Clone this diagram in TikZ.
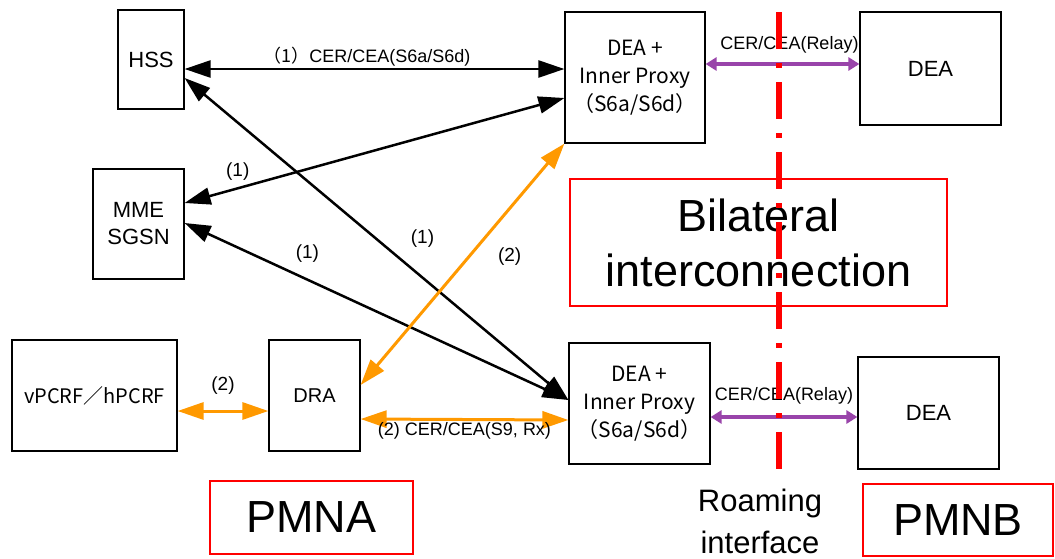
\documentclass[tikz,border=0pt]{standalone}
\usepackage{fontspec}
\setmainfont{Liberation Sans}
\newfontfamily\jp{Noto Sans CJK JP}
\usepackage{xcolor}
\usepackage{tikz}
\usetikzlibrary{arrows.meta, positioning, calc}
\definecolor{orgline}{RGB}{255,153,0}
\definecolor{purpline}{RGB}{153,68,170}
\definecolor{roamred}{RGB}{255,0,0}
\tikzstyle{box} = [rectangle, draw=black, line width=1.2pt, text centered, align=center, inner sep=0pt, font=\fontsize{22}{27}\selectfont]
\tikzstyle{proxy} = [box, minimum width=140pt, minimum height=131pt, font=\jp\fontsize{21}{28}\selectfont]
\tikzstyle{tag} = [rectangle, draw=roamred, line width=1.5pt, text centered, align=center, inner sep=0pt, font=\fontsize{45}{55}\selectfont]
\tikzstyle{lbl} = [inner sep=1pt, font=\fontsize{18}{20}\selectfont]
\tikzstyle{num} = [lbl, font=\fontsize{19}{21}\selectfont]
\tikzstyle{arrow} = [line width=2.5pt, <->, >={Triangle[length=26pt,width=17pt]}]
\tikzstyle{orgarrow} = [arrow, line width=3pt, draw=orgline]
\tikzstyle{relay} = [line width=3.5pt, draw=purpline, <->, >={Triangle[length=11pt,width=13pt]}]
\tikzstyle{roamline} = [draw=roamred, line width=6pt, dash pattern=on 37pt off 14pt on 5pt off 14pt]

\begin{document}
\begin{tikzpicture}[x=1pt, y=-1pt, node distance=220pt]
\useasboundingbox (0,0) rectangle (1055,558);

\node (hss) [box, minimum width=66pt, minimum height=99pt] at (151,59.5) {HSS};
\node (mme) [box, minimum width=91pt, minimum height=110pt] at (138.5,224) {MME\\SGSN};
\node (pcrf) [box, minimum width=165pt, minimum height=111pt, font=\jp\fontsize{20}{24}\selectfont] at (94.5,395.5) {vPCRF／hPCRF};
\node (dra) [box, right of=pcrf, minimum width=91pt, minimum height=111pt, font=\fontsize{20}{24}\selectfont] {DRA};
\node (deaA) [proxy] at (635,77.5) {DEA +\\Inner Proxy\\（S6a/S6d）};
\node (deaB) [proxy, minimum width=141pt, minimum height=121pt] at (639.5,403.5) {DEA +\\Inner Proxy\\（S6a/S6d）};
\node (peerA) [box, right of=deaA, xshift=75.5pt, yshift=9pt, minimum width=141pt, minimum height=113pt] {DEA};
\node (peerB) [box, right of=deaB, xshift=69pt, yshift=-9.5pt, minimum width=141pt, minimum height=112pt] {DEA};

\node (bilat) [tag, minimum width=377pt, minimum height=127pt] at (758.5,242.5) {Bilateral\\interconnection};
\node (pmna) [tag, minimum width=203pt, minimum height=73pt] at (311.5,517.5) {PMNA};
\node (pmnb) [tag, minimum width=190pt, minimum height=72pt] at (958,520) {PMNB};
\node (roam) [align=center, inner sep=0pt, font=\fontsize{31}{42}\selectfont] at (760,521) {Roaming\\interface};

% Arrows
\draw [arrow] ([yshift=-9.5pt]hss.east) -- node[lbl, above=1pt, pos=0.48] {{\jp （1）}CER/CEA(S6a/S6d)} ([yshift=-9.5pt]hss.east -| deaA.west);
\draw [arrow] ([yshift=-18.5pt]hss.east) -- node[num, pos=0.5, xshift=46pt] {(1)} ([yshift=3.5pt]deaB.west);
\draw [arrow] ([yshift=21pt]mme.east) -- node[num, pos=0.14, above=6pt] {(1)} ([yshift=-20.5pt]deaA.west);
\draw [arrow] ([yshift=1pt]mme.east) -- node[num, pos=0.32, above=15pt] {(1)} ([yshift=3.5pt]deaB.west);
\draw [orgarrow] ([yshift=10.5pt]dra.east) -- node[num, pos=0.53, xshift=41pt] {(2)} (deaA.south west);
\draw [orgarrow] ([yshift=-15.5pt]pcrf.east) -- node[num, above=14pt] {(2)} ([yshift=-15.5pt]pcrf.east -| dra.west);
\draw [orgarrow] ([yshift=-23.5pt]dra.east) -- node[lbl, below=0pt] {(2) CER/CEA(S9, Rx)} ([yshift=-16.5pt]deaB.west);
\draw [relay] ([yshift=13.5pt]deaA.east) -- node[lbl, above=8pt, xshift=7pt] {CER/CEA(Relay)} ([yshift=13.5pt]deaA.east -| peerA.west);
\draw [relay] ([yshift=-13.5pt]deaB.east) -- node[lbl, above=10pt] {CER/CEA(Relay)} ([yshift=-13.5pt]deaB.east -| peerB.west);

% roaming interface
\coordinate (rtop) at (779,12);
\coordinate (rbot) at (779,469);
\draw [roamline] (rtop) -- (rbot);

\end{tikzpicture}
\end{document}
